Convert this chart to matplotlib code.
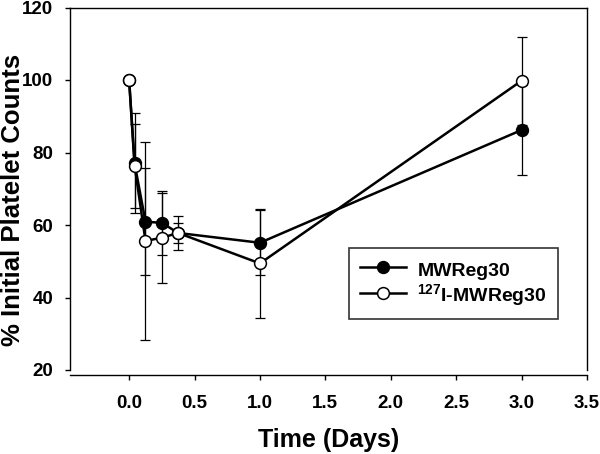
import matplotlib
matplotlib.use('Agg')
import matplotlib.pyplot as plt

# time points (days) and % initial platelet counts
time_days = [0, 0.0417, 0.125, 0.25, 0.375, 1.0, 3.0]
mw_mean = [100, 77, 60.9, 60.6, 57.8, 55.1, 86.2]
mw_err = [0, 13.8, 14.7, 8.8, 2.7, 9.0, 12.4]
i127_mean = [100, 76.4, 55.6, 56.5, 57.8, 49.4, 99.8]
i127_err = [0, 11.6, 27.2, 12.4, 4.8, 15.1, 12.1]

series_labels = ['MWReg30', r'$\mathbf{^{127}}$I-MWReg30']
x_ticks = [0.0, 0.5, 1.0, 1.5, 2.0, 2.5, 3.0, 3.5]
y_ticks = [20, 40, 60, 80, 100, 120]

plt.rcParams['font.family'] = ['Liberation Sans', 'DejaVu Sans']
plt.rcParams['font.weight'] = 'bold'
plt.rcParams['mathtext.fontset'] = 'custom'
plt.rcParams['mathtext.rm'] = 'Liberation Sans:bold'
plt.rcParams['mathtext.bf'] = 'Liberation Sans:bold'

fig = plt.figure(figsize=(6, 4.54), dpi=100)
ax = fig.add_axes([70 / 600, 1 - 370 / 454, 517 / 600, 362.5 / 454])

# error bars underneath everything
eb = dict(fmt='none', ecolor='black', elinewidth=0.9, capsize=3.6,
          capthick=0.9, zorder=2)
ax.errorbar(time_days, mw_mean, yerr=mw_err, **eb)
ax.errorbar(time_days, i127_mean, yerr=i127_err, **eb)

ln = dict(color='black', lw=1.8, marker='o', ms=8.5, mew=1.1, mec='black')
ax.plot(time_days, mw_mean, mfc='black', label=series_labels[0], zorder=3, **ln)
ax.plot(time_days, i127_mean, mfc='white', label=series_labels[1], zorder=4, **ln)

ax.set_xlim(-0.452, 3.5)
ax.set_ylim(20, 120)
ax.set_xticks(x_ticks)
ax.set_yticks(y_ticks)
ax.set_xticklabels([f'{v:.1f}' for v in x_ticks])
ax.tick_params(axis='both', direction='out', length=3.6, width=1,
               labelsize=13.5, colors='black')
ax.tick_params(axis='x', pad=11)
ax.tick_params(axis='y', pad=8.4)

for s in ax.spines.values():
    s.set_linewidth(1.0)
ax.spines['bottom'].set_position(('outward', 3.6))

ax.set_xlabel('Time (Days)', fontsize=18, fontweight='bold', labelpad=11.5)
ax.set_ylabel('% Initial Platelet Counts', fontsize=18.5, fontweight='bold')
ax.yaxis.set_label_coords(-0.088, 0.468)

leg = ax.legend(loc='upper left', bbox_to_anchor=(0.540, 0.337),
                borderaxespad=0, fontsize=14, frameon=True, fancybox=False,
                edgecolor='black', handlelength=2.36, handletextpad=0.6,
                handleheight=1.3, labelspacing=0.14, borderpad=0.55)
leg.get_frame().set_linewidth(1.2)

fig.savefig('out.png', dpi=100)
